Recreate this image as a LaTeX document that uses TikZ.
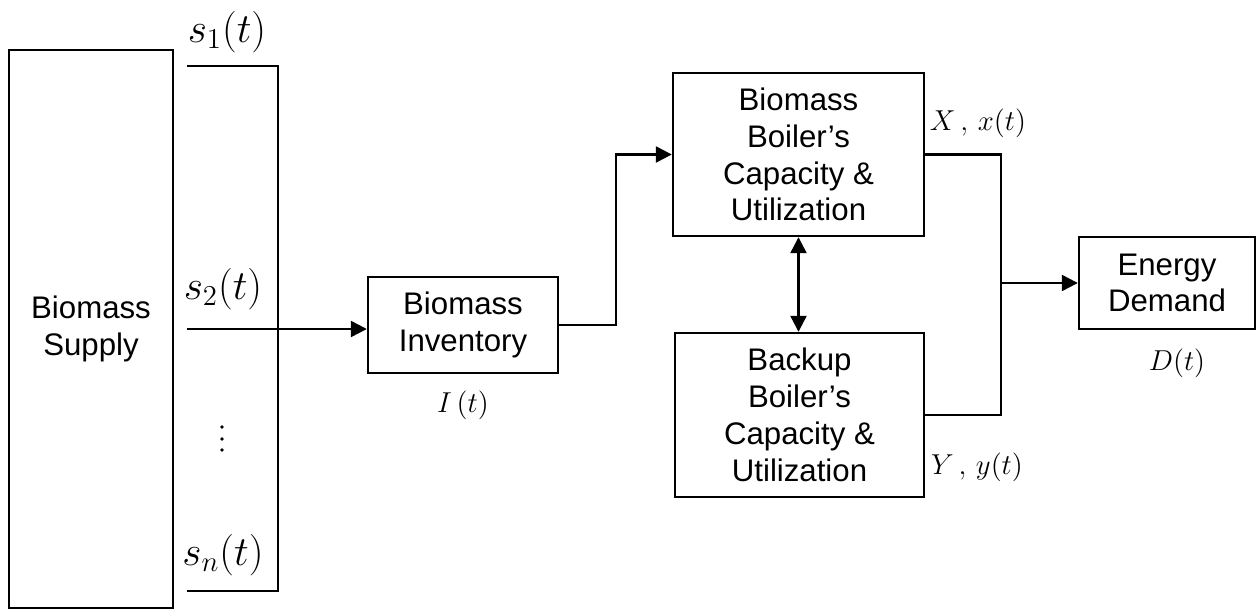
\documentclass[tikz,border=0pt]{standalone}
\usepackage{fontspec}
\setmainfont{Liberation Sans}
\usetikzlibrary{arrows.meta}

\begin{document}
\begin{tikzpicture}[x=.5pt,y=-.5pt,line width=1.2pt,
    blk/.style={draw,align=center,inner sep=0pt,
      font=\fontsize{15.6}{18.4}\selectfont},
    sig/.style={inner sep=0pt,font=\fontsize{20}{24}\selectfont},
    var/.style={inner sep=0pt,font=\fontsize{14}{16}\selectfont},
    >={Triangle[length=8pt,width=8pt]}]
  \useasboundingbox (0,0) rectangle (1259,610);
  % blocks
  \node[blk,minimum width=82pt,minimum height=279pt] (supply) at (91,329)
  {Biomass\\Supply};
  \node[blk,minimum width=95pt,minimum height=48pt] (inv) at (463,325)
  {Biomass\\Inventory};
  \node[blk,minimum width=125.5pt,minimum height=81.5pt] (bboiler) at
  (798.5,154.5) {Biomass\\Boiler’s\\Capacity \&\\Utilization};
  \node[blk,minimum width=124.5pt,minimum height=82pt] (backup) at
  (799.5,415) {Backup\\Boiler’s\\Capacity \&\\Utilization};
  \node[blk,minimum width=88pt,minimum height=46pt] (demand) at (1167,283)
  {Energy\\Demand};
  % supply streams
  \coordinate (s1) at (187,66); \coordinate (bus1) at (278,66);
  \coordinate (busn) at (278,591); \coordinate (sn) at (187,591);
  \coordinate (s2) at (187,329);
  \draw (s1) -- (bus1) -- (busn) -- (sn);
  \draw[->] (s2) -- (s2 -| inv.west);
  \foreach \y in {427,439,450} \fill (222,\y) circle (.9pt);
  \node[sig] (ls1) at (227,32) {$s_1(t)$};
  \node[sig] (ls2) at (223,289) {$s_2(t)$};
  \node[sig] (lsn) at (223,555) {$s_n(t)$};
  % inventory to boilers to demand
  \draw[->] (inv.east) -- ++(57,0) |- (bboiler.west);
  \draw[<->] (bboiler.south) -- (bboiler.south |- backup.north);
  \coordinate (jn) at (1001,283);
  \draw (bboiler.east) -| (jn) |- (backup.east);
  \draw[->] (jn) -- (demand.west);
  \node[var] (li) at (463,405) {$I\,(t)$};
  \node[var] (lx) at (978,123) {$X\,,\,x(t)$};
  \node[var] (ly) at (977,467) {$Y\,,\,y(t)$};
  \node[var] (ld) at (1177,363) {$D(t)$};
\end{tikzpicture}
\end{document}
